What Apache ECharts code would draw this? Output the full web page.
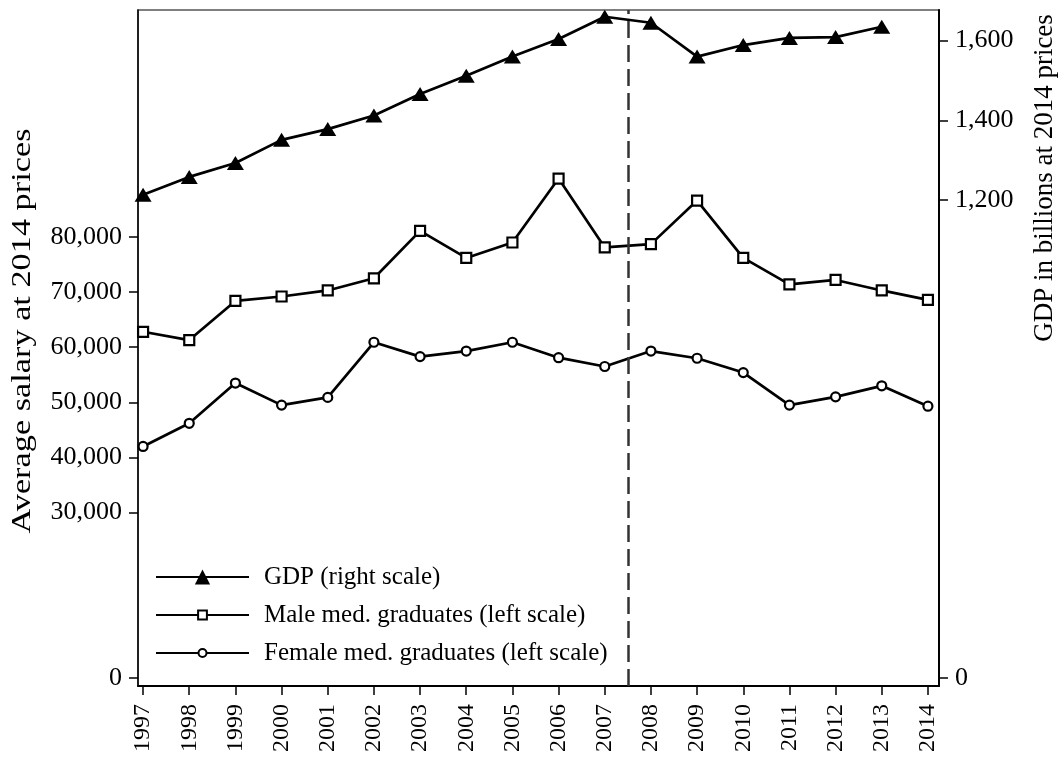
<!DOCTYPE html>
<html>
<head>
<meta charset="utf-8">
<script src="https://cdn.jsdelivr.net/npm/echarts@6/dist/echarts.min.js"></script>
<style>
  html, body { margin: 0; background: #fff; }
  #chart { width: 1059px; height: 761px; }
</style>
</head>
<body>
<div id="chart"></div>
<script>
// data
var years = [1997, 1998, 1999, 2000, 2001, 2002, 2003, 2004, 2005, 2006, 2007, 2008, 2009, 2010, 2011, 2012, 2013, 2014];
var gdp = [1213, 1258, 1293, 1351, 1378, 1412, 1466, 1512, 1560, 1604, 1660, 1645, 1560, 1589, 1607, 1609, 1635, null];
var male = [62800, 61300, 68400, 69200, 70300, 72500, 81100, 76200, 79000, 90600, 78100, 78700, 86600, 76200, 71400, 72200, 70300, 68600];
var female = [42000, 46200, 53500, 49500, 50900, 60900, 58300, 59300, 60900, 58100, 56500, 59300, 58000, 55400, 49500, 51000, 53000, 49300];
var leftTicks = [0, 30000, 40000, 50000, 60000, 70000, 80000];
var rightTicks = [0, 1200, 1400, 1600];
var breakYear = 2007.5;

var serif = 'Liberation Serif';

function pairs (vals) {
  var out = [];
  for (var i = 0; i < years.length; i++) {
    if (vals[i] != null) out.push([years[i], vals[i]]);
  }
  return out;
}

function fmt (v) {
  return Number(v).toLocaleString('en-US');
}

var myChart = echarts.init(document.getElementById('chart'));

function legendBox (name, top, h) {
  return {
    data: [name],
    orient: 'vertical',
    left: 155,
    top: top,
    padding: 0,
    itemWidth: 93,
    itemHeight: h,
    selectedMode: false,
    textStyle: {
      fontFamily: serif,
      fontSize: 25,
      color: '#000',
      lineHeight: 30,
      padding: [0, 0, 0, 10]
    }
  };
}

var option = {
  animation: false,
  backgroundColor: '#fff',
  grid: {
    left: 138,
    right: 120,
    top: 10,
    bottom: 75,
    show: true,
    borderColor: '#555',
    borderWidth: 1.5
  },
  legend: [
    legendBox('GDP (right scale)', 562, 19),
    legendBox('Male med. graduates (left scale)', 600, 11),
    legendBox('Female med. graduates (left scale)', 638, 10)
  ],
  graphic: [{
    type: 'text',
    x: 23,
    y: 331,
    rotation: Math.PI / 2,
    scaleX: 1.27,
    style: {
      text: 'Average salary at 2014 prices',
      fontFamily: serif,
      fontSize: 27,
      fill: '#000',
      align: 'center',
      verticalAlign: 'middle'
    }
  }, {
    type: 'text',
    x: 1045,
    y: 178,
    rotation: Math.PI / 2,
    style: {
      text: 'GDP in billions at 2014 prices',
      fontFamily: serif,
      fontSize: 27,
      fill: '#000',
      align: 'center',
      verticalAlign: 'middle'
    }
  }],
  xAxis: {
    type: 'value',
    min: 1996.89,
    max: 2014.24,
    splitLine: { show: false },
    axisLine: { onZero: false, lineStyle: { color: '#000', width: 2 } },
    axisTick: { length: 9, customValues: years, lineStyle: { color: '#000', width: 1.5 } },
    axisLabel: {
      customValues: years,
      rotate: 90,
      margin: 18,
      fontFamily: serif,
      fontSize: 24,
      color: '#000',
      formatter: function (v) { return String(v); }
    }
  },
  yAxis: [{
    type: 'value',
    position: 'left',
    min: -1451,
    max: 121170,
    splitLine: { show: false },
    axisLine: { show: true, lineStyle: { color: '#000', width: 1.5 } },
    axisTick: { show: true, length: 9, customValues: leftTicks, lineStyle: { color: '#000', width: 1.5 } },
    axisLabel: {
      customValues: leftTicks,
      margin: 16,
      fontFamily: serif,
      fontSize: 26,
      color: '#000',
      formatter: fmt
    }
  }, {
    type: 'value',
    position: 'right',
    min: -20.1,
    max: 1677,
    splitLine: { show: false },
    axisLine: { show: true, lineStyle: { color: '#000', width: 2 } },
    axisTick: { show: true, length: 9, customValues: rightTicks, lineStyle: { color: '#000', width: 1.5 } },
    axisLabel: {
      customValues: rightTicks,
      margin: 16,
      fontFamily: serif,
      fontSize: 26,
      color: '#000',
      formatter: fmt
    }
  }],
  series: [{
    name: 'GDP (right scale)',
    type: 'line',
    yAxisIndex: 1,
    data: pairs(gdp),
    symbol: 'triangle',
    symbolSize: [17, 14],
    lineStyle: { color: '#000', width: 2.7 },
    itemStyle: { color: '#000' },
    z: 3
  }, {
    name: 'Male med. graduates (left scale)',
    type: 'line',
    yAxisIndex: 0,
    data: pairs(male),
    symbol: 'rect',
    symbolSize: 10,
    lineStyle: { color: '#000', width: 2.7 },
    itemStyle: { color: '#fff', borderColor: '#000', borderWidth: 2.2 },
    z: 3
  }, {
    name: 'Female med. graduates (left scale)',
    type: 'line',
    yAxisIndex: 0,
    data: pairs(female),
    symbol: 'circle',
    symbolSize: 9,
    lineStyle: { color: '#000', width: 2.7 },
    itemStyle: { color: '#fff', borderColor: '#000', borderWidth: 2.2 },
    z: 3,
    markLine: {
      silent: true,
      symbol: ['none', 'none'],
      label: { show: false },
      lineStyle: { color: '#333', width: 2.5, type: [17, 7] },
      data: [{ xAxis: breakYear }],
      z: 4
    }
  }]
};

myChart.setOption(option);
window.addEventListener('resize', function () {
  myChart.resize();
});
</script>
</body>
</html>
